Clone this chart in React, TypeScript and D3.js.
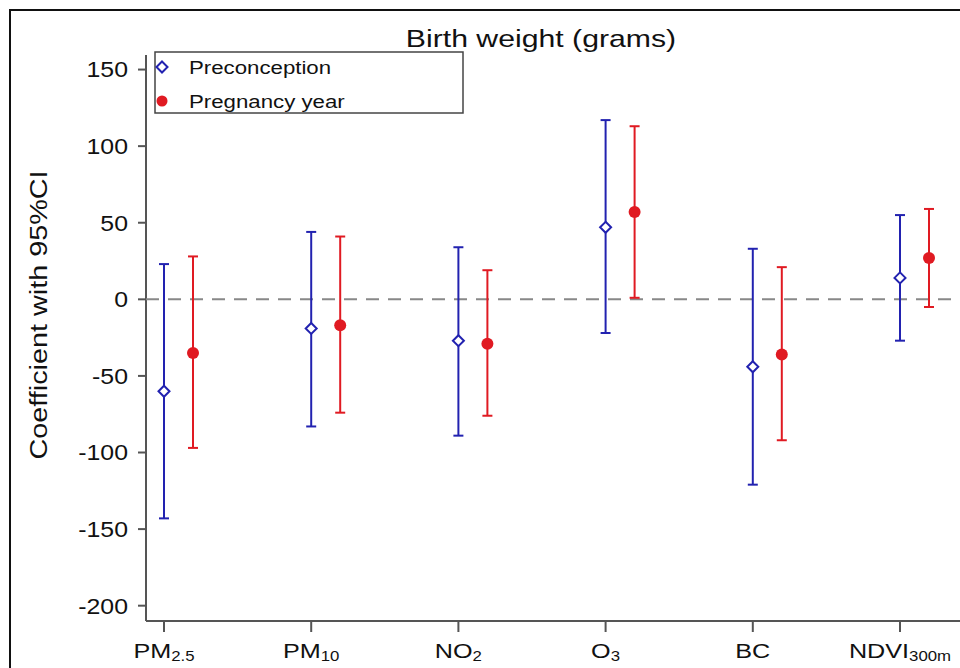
import * as d3 from "d3";

// categories, with subscript part kept apart
const categories = ["PM2.5", "PM10", "NO2", "O3", "BC", "NDVI300m"];
const labelMain = ["PM", "PM", "NO", "O", "BC", "NDVI"];
const labelSub = ["2.5", "10", "2", "3", "", "300m"];

// Preconception (blue diamonds)
const preEst = [-60, -19, -27, 47, -44, 14];
const preLow = [-143, -83, -89, -22, -121, -27];
const preHigh = [23, 44, 34, 117, 33, 55];

// Pregnancy year (red dots)
const pregEst = [-35, -17, -29, 57, -36, 27];
const pregLow = [-97, -74, -76, 1, -92, -5];
const pregHigh = [28, 41, 19, 113, 21, 59];

const yTicks = [150, 100, 50, 0, -50, -100, -150, -200];

const width = 960;
const height = 668;
const margin = { top: 55, right: 0, bottom: 47, left: 146 };

const blue = "#2222b0";
const red = "#e01a22";
const axisColor = "#555";
const font = "'Liberation Sans', Arial, sans-serif";

export default function App() {
  const y = d3.scaleLinear().domain([-210, 159.5]).range([height - margin.bottom, margin.top]);
  const x = d3.scalePoint().domain(categories).range([164, 900]);
  const offset = 29;
  const cap = 5;

  const series = [
    { est: preEst, low: preLow, high: preHigh, color: blue, dx: 0, shape: "diamond" },
    { est: pregEst, low: pregLow, high: pregHigh, color: red, dx: offset, shape: "dot" },
  ];

  const diamond = (cx: number, cy: number) =>
    `M${cx},${cy - 5.5}L${cx + 5.5},${cy}L${cx},${cy + 5.5}L${cx - 5.5},${cy}Z`;

  const axisY = height - margin.bottom;

  // the source image is a bit wider than tall, so text gets a horizontal stretch
  const at = (px: number, py: number, sx: number) => `translate(${px},${py}) scale(${sx},1)`;

  return (
    <svg
      width={width}
      height={height}
      style={{ position: "absolute", left: 0, top: 0, background: "#fff" }}
      fontFamily={font}
    >
      {/* outer frame */}
      <rect x={10} y={10} width={width + 20} height={height + 20} fill="none" stroke="#111" strokeWidth={2} />

      {/* title */}
      <text transform={at(541, 47, 1.26)} textAnchor="middle" fontSize={24} fill="#111">
        Birth weight (grams)
      </text>

      {/* y axis label */}
      <text
        transform={`translate(47,315) rotate(-90) scale(1.2,1)`}
        textAnchor="middle"
        fontSize={24}
        fill="#111"
      >
        Coefficient with 95%CI
      </text>

      {/* y axis */}
      <line x1={margin.left} x2={margin.left} y1={margin.top} y2={axisY} stroke={axisColor} strokeWidth={2} />
      {yTicks.map((t) => (
        <g key={t}>
          <line x1={margin.left - 8} x2={margin.left} y1={y(t)} y2={y(t)} stroke={axisColor} strokeWidth={2} />
          <text transform={at(128, y(t), 1.13)} dy="0.36em" textAnchor="end" fontSize={22} fill="#111">
            {t}
          </text>
        </g>
      ))}

      {/* x axis */}
      <line x1={margin.left} x2={width} y1={axisY} y2={axisY} stroke={axisColor} strokeWidth={2} />
      {categories.map((c, i) => (
        <g key={c}>
          <line x1={x(c)!} x2={x(c)!} y1={axisY} y2={axisY + 11} stroke={axisColor} strokeWidth={2} />
          <text transform={at(x(c)!, 658, 1.2)} textAnchor="middle" fontSize={21} fill="#111">
            {labelMain[i]}
            {labelSub[i] && (
              <tspan fontSize={14} dy={3}>
                {labelSub[i]}
              </tspan>
            )}
          </text>
        </g>
      ))}

      {/* zero reference line */}
      <line
        x1={margin.left}
        x2={width}
        y1={y(0)}
        y2={y(0)}
        stroke="#888"
        strokeWidth={2}
        strokeDasharray="13,9"
      />

      {/* error bars and estimates */}
      {series.map((s, si) => (
        <g key={si}>
          {categories.map((c, i) => {
            const cx = x(c)! + s.dx;
            return (
              <g key={c}>
                <line x1={cx} x2={cx} y1={y(s.low[i])} y2={y(s.high[i])} stroke={s.color} strokeWidth={2} />
                <line x1={cx - cap} x2={cx + cap} y1={y(s.low[i])} y2={y(s.low[i])} stroke={s.color} strokeWidth={2} />
                <line x1={cx - cap} x2={cx + cap} y1={y(s.high[i])} y2={y(s.high[i])} stroke={s.color} strokeWidth={2} />
                {s.shape === "diamond" ? (
                  <path d={diamond(cx, y(s.est[i]))} fill="#fff" stroke={s.color} strokeWidth={2} />
                ) : (
                  <circle cx={cx} cy={y(s.est[i])} r={6} fill={s.color} />
                )}
              </g>
            );
          })}
        </g>
      ))}

      {/* legend */}
      <rect x={155} y={52} width={308} height={61} fill="#fff" stroke="#444" strokeWidth={1.5} />
      <path d={diamond(162, 67)} fill="#fff" stroke={blue} strokeWidth={2} />
      <text transform={at(189, 74, 1.27)} fontSize={17.5} fill="#111">
        Preconception
      </text>
      <circle cx={162} cy={101} r={5.5} fill={red} />
      <text transform={at(189, 108, 1.27)} fontSize={17.5} fill="#111">
        Pregnancy year
      </text>
    </svg>
  );
}
